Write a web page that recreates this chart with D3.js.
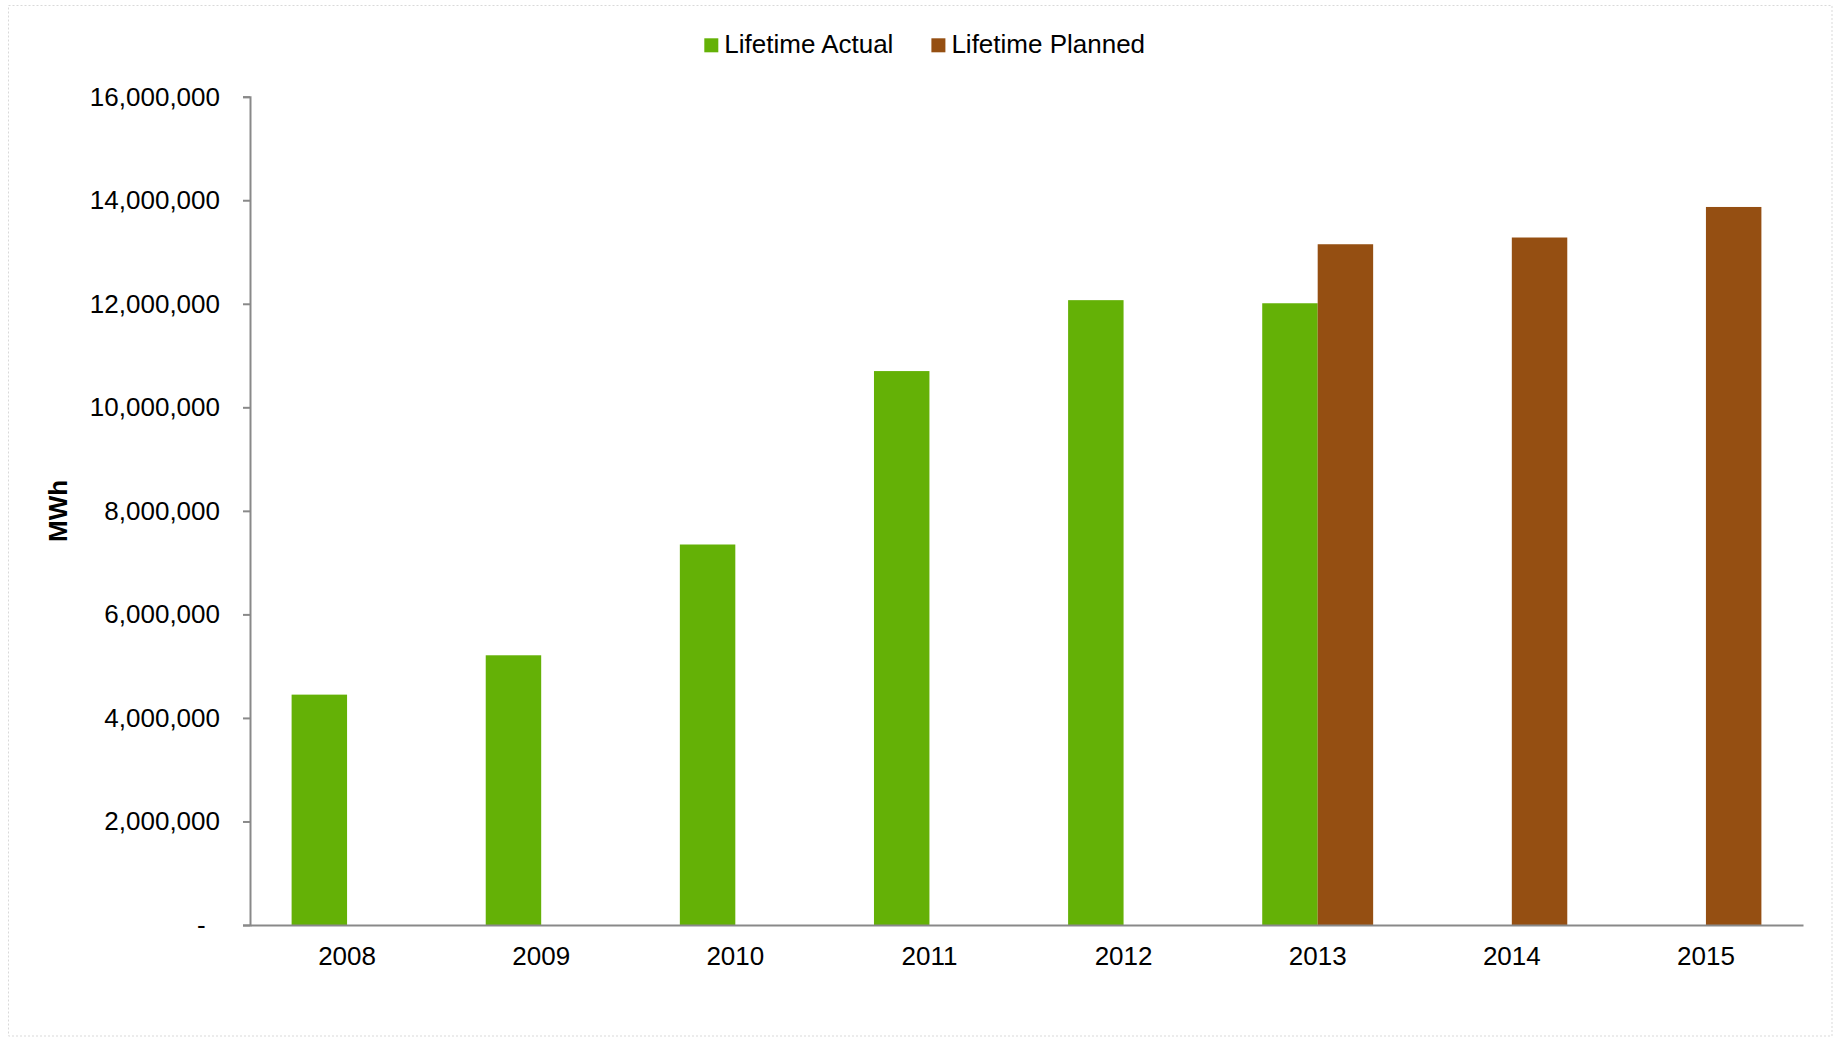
<!DOCTYPE html>
<html>
<head>
<meta charset="utf-8">
<script src="https://cdn.jsdelivr.net/npm/d3@7"></script>
<style>
  html, body { margin: 0; padding: 0; background: #fff; }
  svg { display: block; font-family: "Liberation Sans", Arial, sans-serif; }
</style>
</head>
<body>
<svg id="chart" width="1841" height="1040"></svg>
<script>
const years = ["2008", "2009", "2010", "2011", "2012", "2013", "2014", "2015"];
const seriesNames = ["Lifetime Actual", "Lifetime Planned"];
const actual = [4450000, 5210000, 7350000, 10700000, 12070000, 12010000, null, null];
const planned = [null, null, null, null, null, 13150000, 13280000, 13870000];
const yTicks = [0, 2000000, 4000000, 6000000, 8000000, 10000000, 12000000, 14000000, 16000000];
const colors = ["#64B106", "#954F12"];
const yLabel = "MWh";

const svg = d3.select("#chart");
const W = 1841, H = 1040;
const plot = { left: 250, right: 1803, top: 96.7, bottom: 925 };

// outer border
svg.append("rect")
  .attr("x", 8.5).attr("y", 5.5)
  .attr("width", 1832 - 8.5).attr("height", 1036 - 5.5)
  .attr("fill", "none").attr("stroke", "#d9d9d9")
  .attr("stroke-width", 1).attr("stroke-dasharray", "2,2");

const x = d3.scaleBand().domain(years)
  .range([plot.left, plot.right])
  .paddingInner(0.4286).paddingOuter(0.2143);
const xs = d3.scaleBand().domain(seriesNames).range([0, x.bandwidth()]).padding(0);
const y = d3.scaleLinear().domain([0, 16000000]).range([plot.bottom, plot.top]);

const rows = years.map((yr, i) => ({ year: yr, values: [actual[i], planned[i]] }));

// bars
const g = svg.append("g");
rows.forEach(r => {
  r.values.forEach((v, j) => {
    if (v == null) return;
    g.append("rect")
      .attr("x", x(r.year) + xs(seriesNames[j]))
      .attr("y", y(v))
      .attr("width", xs.bandwidth())
      .attr("height", y(0) - y(v))
      .attr("fill", colors[j]);
  });
});

// y axis
const fmt = d3.format(",");
const yAxis = d3.axisLeft(y).tickValues(yTicks).tickSizeOuter(0).tickSize(7).tickPadding(23)
  .tickFormat(d => d === 0 ? "-\u00a0\u00a0" : fmt(d));
const yg = svg.append("g").attr("transform", `translate(${plot.left},0)`).call(yAxis);
yg.select(".domain").attr("stroke", "#898989").attr("stroke-width", 2);
yg.selectAll(".tick line").attr("stroke", "#898989").attr("stroke-width", 2);
yg.selectAll(".tick text").attr("font-size", 26).attr("fill", "#000")
  .attr("font-family", "'Liberation Sans', Arial, sans-serif");

// x axis
const xAxis = d3.axisBottom(x).tickSize(0).tickSizeOuter(0).tickPadding(22);
const xg = svg.append("g").attr("transform", `translate(0,${plot.bottom})`).call(xAxis);
xg.select(".domain").attr("stroke", "#898989").attr("stroke-width", 2);
xg.selectAll(".tick text").attr("font-size", 26).attr("fill", "#000")
  .attr("font-family", "'Liberation Sans', Arial, sans-serif");

// y label
svg.append("text")
  .attr("transform", `translate(66.5,${(plot.top + plot.bottom) / 2}) rotate(-90)`)
  .attr("text-anchor", "middle")
  .attr("font-size", 26).attr("font-weight", "bold").attr("fill", "#000")
  .text(yLabel);

// legend
const lg = svg.append("g");
const items = [];
seriesNames.forEach((name, j) => {
  const it = lg.append("g");
  it.append("rect").attr("x", 0).attr("y", 38.3).attr("width", 14).attr("height", 14).attr("fill", colors[j]);
  const t = it.append("text").attr("x", 20).attr("y", 53.3).attr("font-size", 26).attr("fill", "#000").text(name);
  const w = 20 + t.node().getComputedTextLength();
  items.push({ it, w });
});
const gap = 38;
const total = d3.sum(items, d => d.w) + gap * (items.length - 1);
let start = 924.7 - total / 2;
items.forEach(d => {
  d.it.attr("transform", `translate(${start},0)`);
  start += d.w + gap;
});
</script>
</body>
</html>
